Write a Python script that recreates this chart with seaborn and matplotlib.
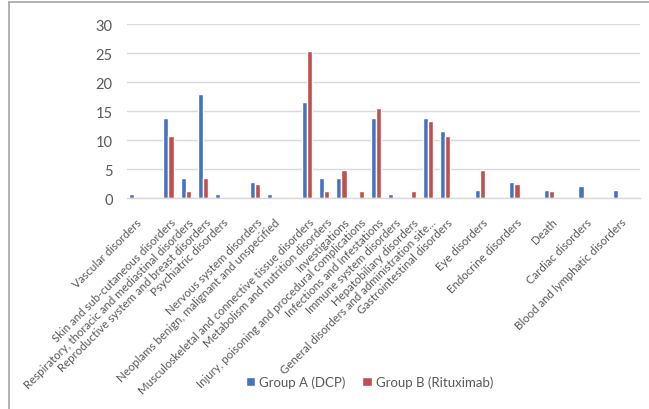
import matplotlib
matplotlib.use("Agg")
import matplotlib.pyplot as plt
from matplotlib.lines import Line2D
import matplotlib.transforms as mtransforms
import seaborn as sns
import pandas as pd

# Category slots along the x axis; empty strings are unlabeled spacer slots
categories = [
    "Vascular disorders", "",
    "Skin and sub-cutaneous disorders",
    "Respiratory, thoracic and mediastinal disorders",
    "Reproductive system and breast disorders",
    "Psychiatric disorders", "",
    "Nervous system disorders",
    "Neoplams benign, malignant and unspecified", "",
    "Musculoskeletal and connective tissue disorders",
    "Metabolism and nutrition disorders",
    "Investigations",
    "Injury, poisoning and procedural complications",
    "Infections and Infestations",
    "Immune system disorders",
    "Hepatobiliary disorders",
    "General disorders and administration site...",
    "Gastrointestinal disorders", "",
    "Eye disorders", "",
    "Endocrine disorders", "",
    "Death", "",
    "Cardiac disorders", "",
    "Blood and lymphatic disorders",
]

group_a = [0.7, 0, 13.8, 3.4, 18.0, 0.7, 0, 2.8, 0.7, 0, 16.6, 3.4, 3.4, 0,
           13.8, 0.7, 0, 13.8, 11.6, 0, 1.4, 0, 2.8, 0, 1.4, 0, 2.1, 0, 1.4]
group_b = [0, 0, 10.7, 1.2, 3.5, 0, 0, 2.4, 0, 0, 25.3, 1.2, 4.8, 1.2,
           15.6, 0, 1.2, 13.2, 10.7, 0, 4.8, 0, 2.4, 0, 1.2, 0, 0, 0, 0]

series_names = ["Group A (DCP)", "Group B (Rituximab)"]
colors = ["#4472C4", "#C0504D"]
y_ticks = [0, 5, 10, 15, 20, 25, 30]

slots = list(range(len(categories)))
df = pd.DataFrame({
    "slot": slots * 2,
    "value": group_a + group_b,
    "group": [series_names[0]] * len(slots) + [series_names[1]] * len(slots),
})

sns.set_theme(style="white")
plt.rcParams["font.family"] = ["Lato", "DejaVu Sans"]
text_color = "#595959"

fig = plt.figure(figsize=(6.49, 4.10), dpi=100)
ax = fig.add_axes([0.195, 0.5146, 0.791, 0.4244])

sns.barplot(data=df, x="slot", y="value", hue="group", order=slots,
            hue_order=series_names, palette=colors, width=0.6,
            saturation=1, ax=ax, legend=True)

ax.set_xlim(-0.42, 29.25)
ax.set_ylim(0, 30)
ax.set_yticks(y_ticks)
ax.set_yticklabels([str(t) for t in y_ticks], color=text_color, fontsize=10.5)
ax.yaxis.grid(True, color="#D9D9D9", linewidth=1)
ax.set_axisbelow(True)
ax.tick_params(axis="y", length=0, pad=10)
ax.tick_params(axis="x", length=0, pad=13)
ax.set_xticks(slots)
ax.set_xticklabels(categories, rotation=45, ha="right", va="top",
                   rotation_mode="anchor", color=text_color, fontsize=8.3)
shift = mtransforms.ScaledTranslation(2 / 100, 0, fig.dpi_scale_trans)
for lbl in ax.get_xticklabels():
    lbl.set_transform(lbl.get_transform() + shift)
ax.set_xlabel("")
ax.set_ylabel("")
for side in ["top", "right", "left"]:
    ax.spines[side].set_visible(False)
ax.spines["bottom"].set_color("#D9D9D9")
ax.spines["bottom"].set_linewidth(1)

leg = ax.legend(loc="center", bbox_to_anchor=(0.569, 0.066),
                bbox_transform=fig.transFigure, ncol=2, frameon=False,
                fontsize=9.5, handlelength=0.7, handleheight=0.7,
                handletextpad=0.3, columnspacing=1.3)
for t in leg.get_texts():
    t.set_color(text_color)

# Frame lines along the top and left edges
fig.add_artist(Line2D([9 / 649, 1], [1 - 3 / 410, 1 - 3 / 410],
                      transform=fig.transFigure, color="#A6A6A6", linewidth=1.2))
fig.add_artist(Line2D([9 / 649, 9 / 649], [0, 1 - 3 / 410],
                      transform=fig.transFigure, color="#A6A6A6", linewidth=1.2))

fig.savefig("out.png", dpi=100, facecolor="white")
